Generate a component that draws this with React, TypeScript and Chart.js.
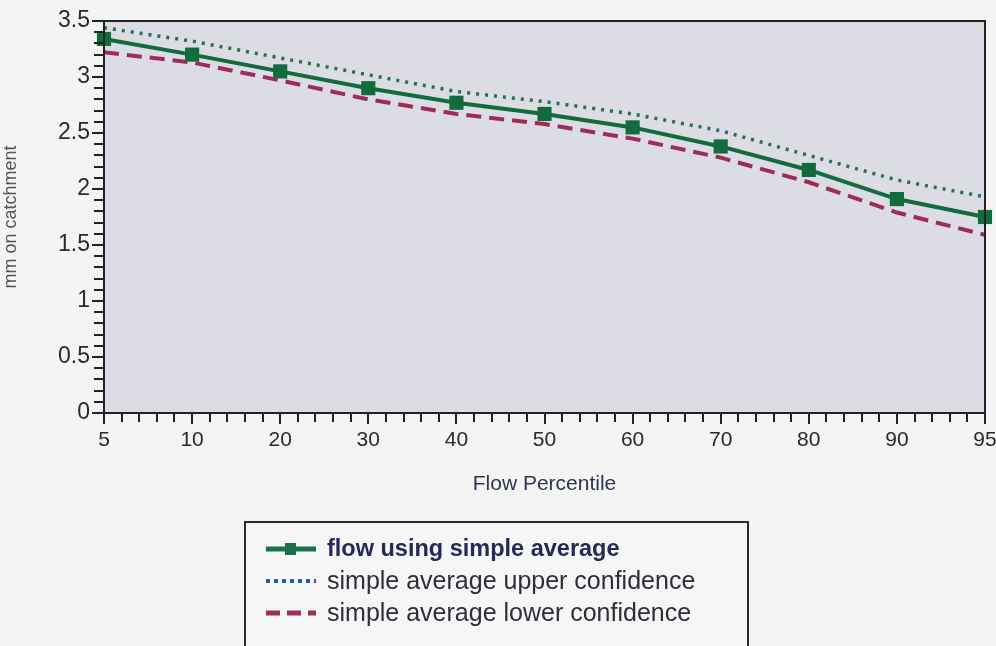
import React, { useEffect, useRef } from "react";
import { Chart, registerables } from "chart.js";

Chart.register(...registerables);

const percentiles = ["5", "10", "20", "30", "40", "50", "60", "70", "80", "90", "95"];
const flowSimpleAverage = [3.34, 3.2, 3.05, 2.9, 2.77, 2.67, 2.55, 2.38, 2.17, 1.91, 1.75];
const upperConfidence = [3.44, 3.32, 3.17, 3.02, 2.87, 2.78, 2.67, 2.52, 2.3, 2.08, 1.93];
const lowerConfidence = [3.22, 3.13, 2.97, 2.8, 2.67, 2.58, 2.45, 2.28, 2.06, 1.79, 1.59];
const seriesNames = [
  "flow using simple average",
  "simple average upper confidence",
  "simple average lower confidence",
];
const yTicks = [0, 0.5, 1, 1.5, 2, 2.5, 3, 3.5];
const xTitle = "Flow Percentile";
const yTitle = "mm on catchment";

const legendColors = ["#1a7048", "#2060a8", "#9a2f5e"];
const FONT = "Arial, 'Liberation Sans', sans-serif";

const framePlugin = {
  id: "frame",
  beforeDraw(chart: any) {
    const { ctx, chartArea } = chart;
    ctx.save();
    ctx.fillStyle = "#f4f4f4";
    ctx.fillRect(0, 0, chart.width, chart.height);
    ctx.fillStyle = "#dcdce4";
    ctx.fillRect(chartArea.left, chartArea.top, chartArea.right - chartArea.left, chartArea.bottom - chartArea.top);
    ctx.restore();
  },
  afterDraw(chart: any) {
    const { ctx, chartArea, scales } = chart;
    const { left, right, top, bottom } = chartArea;
    ctx.save();
    ctx.strokeStyle = "#222";
    ctx.lineWidth = 2;
    ctx.strokeRect(left, top, right - left, bottom - top);
    const y = scales.y;
    for (let i = 0; i <= 35; i++) {
      const py = Math.round(y.getPixelForValue(i / 10));
      const len = i % 5 === 0 ? 12 : 10;
      ctx.beginPath();
      ctx.moveTo(left - len, py);
      ctx.lineTo(left, py);
      ctx.stroke();
    }
    const x = scales.x;
    const n = percentiles.length - 1;
    for (let i = 0; i <= n * 5; i++) {
      const px = Math.round(x.getPixelForValue(i / 5));
      const len = i % 5 === 0 ? 11 : 9;
      ctx.beginPath();
      ctx.moveTo(px, bottom);
      ctx.lineTo(px, bottom + len);
      ctx.stroke();
    }

    // legend box
    const bx = 245, by = 522, bw = 503, bh = 140;
    ctx.fillStyle = "#f6f6f6";
    ctx.fillRect(bx, by, bw, bh);
    ctx.strokeStyle = "#2a2a2a";
    ctx.lineWidth = 2;
    ctx.strokeRect(bx, by, bw, bh);
    const rows = [549, 581, 613];
    chart.data.datasets.forEach((ds: any, i: number) => {
      const ry = rows[i];
      ctx.save();
      ctx.strokeStyle = legendColors[i];
      ctx.lineWidth = i === 1 ? 4 : 5;
      ctx.setLineDash(i === 1 ? [4, 4] : i === 2 ? [14, 7] : []);
      ctx.beginPath();
      ctx.moveTo(266, ry);
      ctx.lineTo(316, ry);
      ctx.stroke();
      ctx.setLineDash([]);
      if (i === 0) {
        ctx.fillStyle = legendColors[0];
        ctx.fillRect(285, ry - 6, 11, 12);
      }
      ctx.restore();
      ctx.fillStyle = i === 0 ? "#26285a" : "#2e2e38";
      ctx.font = (i === 0 ? "bold 23.5px " : "25px ") + FONT;
      ctx.textBaseline = "middle";
      ctx.textAlign = "left";
      ctx.fillText(ds.label, 327, ry + 1);
    });
    ctx.restore();
  },
};

export default function App() {
  const ref = useRef<HTMLCanvasElement | null>(null);
  useEffect(() => {
    document.body.style.margin = "0";
    document.body.style.background = "#f4f4f4";
    const canvas = ref.current!;
    const chart = new Chart(canvas, {
      type: "line",
      data: {
        labels: percentiles,
        datasets: [
          {
            label: seriesNames[0],
            data: flowSimpleAverage,
            borderColor: "#116b3e",
            backgroundColor: "#116b3e",
            borderWidth: 4,
            pointStyle: "rect",
            pointRadius: 10,
            pointBorderWidth: 0,
            order: 1,
          },
          {
            label: seriesNames[1],
            data: upperConfidence,
            borderColor: "#24704f",
            backgroundColor: "#24704f",
            borderWidth: 3.5,
            borderDash: [3, 6],
            pointRadius: 0,
            order: 2,
          },
          {
            label: seriesNames[2],
            data: lowerConfidence,
            borderColor: "#9d2c5c",
            backgroundColor: "#9d2c5c",
            borderWidth: 4,
            borderDash: [15, 8],
            pointRadius: 0,
            order: 3,
          },
        ],
      },
      options: {
        responsive: false,
        animation: false,
        devicePixelRatio: 1,
        layout: { padding: { top: 21, right: 11, bottom: 149, left: 0 } },
        plugins: {
          legend: { display: false },
          tooltip: { enabled: false },
        },
        scales: {
          x: {
            type: "category",
            offset: false,
            grid: { display: false, drawTicks: false },
            border: { display: false },
            ticks: {
              padding: 15,
              color: "#2a2a2a",
              maxRotation: 0,
              autoSkip: false,
              font: { size: 21, family: FONT },
            },
            title: {
              display: true,
              text: xTitle,
              color: "#2e3550",
              font: { size: 21, family: FONT },
              padding: { top: 2, bottom: 0 },
            },
            afterFit(scale: any) {
              scale.height = 84;
              scale.paddingLeft = 0;
              scale.paddingRight = 0;
            },
          },
          y: {
            min: 0,
            max: 3.5,
            grid: { display: false, drawTicks: false },
            border: { display: false },
            afterBuildTicks(scale: any) {
              scale.ticks = yTicks.map((v) => ({ value: v }));
            },
            ticks: {
              padding: 14,
              color: "#2a2a2a",
              font: { size: 23, family: FONT },
              callback: (v: any) => String(v),
            },
            title: {
              display: true,
              text: yTitle,
              color: "#555",
              font: { size: 18, family: FONT },
              padding: { top: 0, bottom: 9 },
            },
            afterFit(scale: any) {
              scale.width = 104;
              scale.paddingTop = 0;
              scale.paddingBottom = 0;
            },
          },
        },
      },
      plugins: [framePlugin],
    });
    return () => chart.destroy();
  }, []);
  return (
    <div style={{ width: 996, height: 646, background: "#f4f4f4" }}>
      <canvas ref={ref} width={996} height={646} style={{ display: "block" }} />
    </div>
  );
}
